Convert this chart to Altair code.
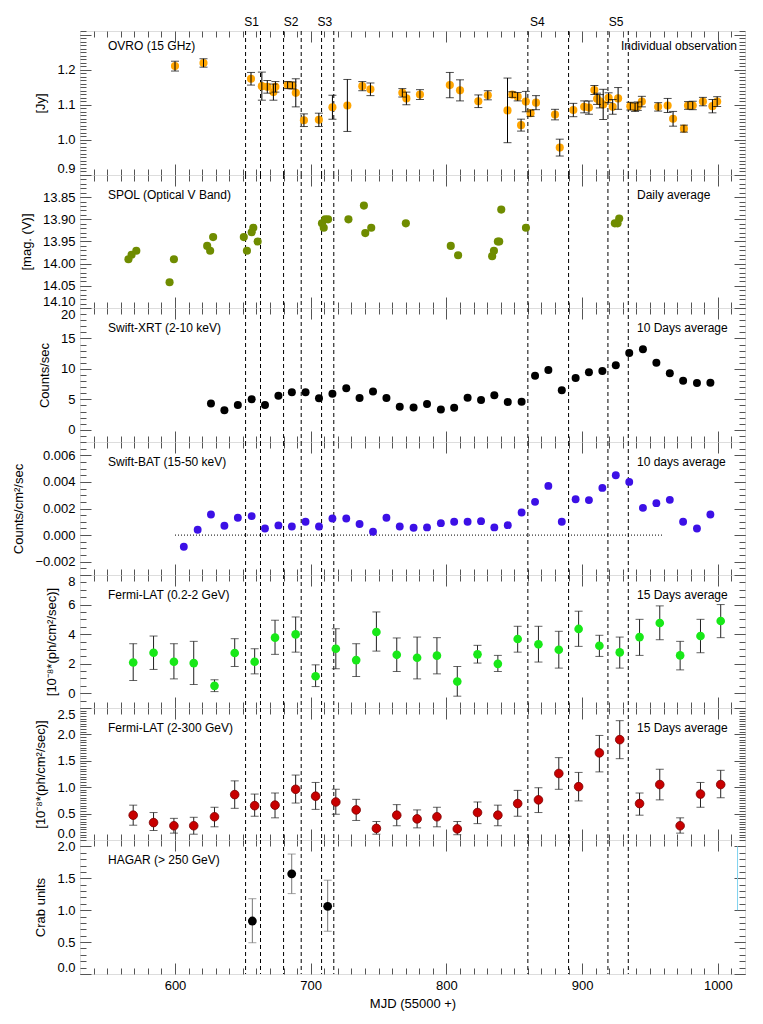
import altair as alt
import pandas as pd

FONT = "Liberation Sans"
X_DOMAIN = [530, 1020]
PANEL_W = 665

# ---------------- state boundaries ----------------
STATE_EDGES = [652, 663, 680, 693, 708, 717, 860, 890, 919, 934]
STATE_NAMES = ["S1", "S2", "S3", "S4", "S5"]
STATE_LABEL_MJD = [656.5, 685.5, 710.5, 867, 925]

# ---------------- OVRO 15 GHz ----------------
ovro_mjd = [600, 621, 656, 664, 668, 672.5, 674, 683, 686.5, 689,
            695, 706, 716, 727, 738, 744, 767.5, 770.5, 780.5, 802.5,
            810, 823.5, 830.5, 845, 848.5, 852.5, 855, 858.5, 862, 866,
            880, 883.5, 893.5, 901.5, 905, 909, 911, 913, 915.5, 919.5,
            922.5, 926.5, 935.5, 939, 941, 944, 956, 963, 967, 975,
            978, 981.5, 989, 996, 999.5]
ovro_flux = [1.210, 1.219, 1.174, 1.153, 1.151, 1.136, 1.151, 1.156, 1.155, 1.134,
             1.056, 1.057, 1.093, 1.098, 1.153, 1.144, 1.134, 1.118, 1.129, 1.156,
             1.141, 1.110, 1.127, 1.084, 1.129, 1.123, 1.042, 1.109, 1.076, 1.106,
             1.072, 0.978, 1.085, 1.094, 1.092, 1.142, 1.117, 1.110, 1.101, 1.120,
             1.094, 1.118, 1.096, 1.093, 1.096, 1.109, 1.094, 1.098, 1.060, 1.032,
             1.098, 1.098, 1.109, 1.096, 1.109]
ovro_err = [0.014, 0.012, 0.018, 0.040, 0.018, 0.023, 0.015, 0.010, 0.010, 0.040,
            0.018, 0.019, 0.034, 0.074, 0.013, 0.018, 0.012, 0.018, 0.014, 0.036,
            0.030, 0.018, 0.013, 0.092, 0.008, 0.012, 0.017, 0.029, 0.009, 0.020,
            0.015, 0.024, 0.019, 0.017, 0.019, 0.013, 0.016, 0.019, 0.043, 0.014,
            0.021, 0.031, 0.011, 0.012, 0.012, 0.015, 0.012, 0.020, 0.021, 0.010,
            0.011, 0.012, 0.012, 0.019, 0.014]

# ---------------- SPOL V band ----------------
spol_mjd = [565.7, 568.0, 571.5, 596.0, 599.2, 623.7, 625.9, 628.1, 650.7, 653.0,
            656.5, 657.7, 660.9, 708.3, 709.6, 710.6, 712.8, 727.8, 739.2, 740.2,
            744.6, 770.1, 803.2, 808.6, 833.7, 835.0, 837.9, 838.9, 840.4, 858.6,
            924.1, 926.1, 927.3]
spol_mag = [13.990, 13.980, 13.971, 14.042, 13.990, 13.960, 13.971, 13.940, 13.940, 13.971,
            13.929, 13.919, 13.950, 13.909, 13.919, 13.900, 13.900, 13.900, 13.869, 13.931,
            13.919, 13.909, 13.960, 13.981, 13.983, 13.971, 13.950, 13.950, 13.878, 13.919,
            13.909, 13.909, 13.898]

# ---------------- Swift-XRT ----------------
xrt_mjd = [626.5, 636.4, 646.3, 656.5, 666.3, 676.2, 686.1, 696.2, 706.1, 716.0,
           726.2, 736.0, 745.9, 755.8, 765.6, 775.8, 785.7, 795.9, 805.7, 815.6,
           825.5, 835.3, 845.2, 855.4, 865.3, 875.1, 885.0, 895.2, 905.0, 914.9,
           924.8, 934.7, 944.8, 954.7, 964.6, 974.4, 984.6, 994.5]
xrt_rate = [4.33, 3.22, 4.06, 5.00, 4.06, 5.61, 6.17, 6.17, 5.17, 5.94,
            6.83, 5.22, 6.28, 5.22, 3.78, 3.67, 4.22, 3.33, 3.61, 5.28,
            4.89, 5.67, 4.56, 4.61, 8.89, 9.83, 6.50, 8.50, 9.44, 9.67,
            10.61, 12.61, 13.22, 11.00, 9.28, 8.06, 7.67, 7.72]

# ---------------- Swift-BAT ----------------
bat_mjd = [606.5, 616.7, 626.5, 636.4, 646.3, 656.5, 666.3, 676.2, 686.1, 696.2,
           706.1, 716.0, 726.2, 736.0, 745.9, 755.8, 765.6, 775.8, 785.7, 795.9,
           805.7, 815.6, 825.5, 835.3, 845.2, 855.4, 865.3, 875.1, 885.0, 895.2,
           905.0, 914.9, 924.8, 934.7, 944.8, 954.7, 964.6, 974.4, 984.6, 994.5]
bat_rate = [-0.00088, 0.00040, 0.00155, 0.00070, 0.00130, 0.00143, 0.00050, 0.00073, 0.00065, 0.00100,
            0.00065, 0.00125, 0.00125, 0.00083, 0.00025, 0.00130, 0.00065, 0.00055, 0.00058, 0.00090,
            0.00100, 0.00100, 0.00105, 0.00058, 0.00075, 0.00170, 0.00250, 0.00370, 0.00100, 0.00270,
            0.00263, 0.00355, 0.00450, 0.00400, 0.00205, 0.00240, 0.00265, 0.00100, 0.00050, 0.00155]
bat_zero_line = [600, 960]

# ---------------- Fermi-LAT ----------------
lat_mjd = [569.2, 584.2, 599.2, 613.8, 629.1, 644.0, 658.7, 673.7, 688.9, 703.6,
           718.5, 733.5, 748.4, 763.4, 778.4, 793.0, 808.0, 822.9, 837.9, 852.5,
           867.8, 882.8, 897.4, 912.7, 927.7, 942.3, 957.2, 972.2, 987.2, 1002.1]
latlo_flux = [2.08, 2.74, 2.13, 2.04, 0.50, 2.72, 2.13, 3.76, 3.98, 1.15,
              3.01, 2.24, 4.14, 2.60, 2.40, 2.54, 0.79, 2.63, 1.99, 3.67,
              3.31, 2.94, 4.35, 3.21, 2.76, 3.80, 4.75, 2.56, 3.87, 4.89]
latlo_hi = [3.35, 3.87, 3.35, 3.51, 0.91, 3.69, 3.01, 4.94, 5.16, 1.92,
            4.37, 3.35, 5.50, 3.74, 3.80, 3.76, 1.81, 3.24, 2.56, 4.53,
            4.53, 4.19, 5.55, 3.92, 3.80, 5.00, 5.91, 3.51, 5.00, 6.00]
latlo_lo = [0.86, 1.61, 0.97, 0.59, 0.11, 1.81, 1.31, 2.63, 2.78, 0.45,
            1.65, 1.13, 2.85, 1.47, 0.97, 1.31, -0.20, 2.04, 1.47, 2.78,
            2.11, 1.70, 3.17, 2.49, 1.70, 2.56, 3.62, 1.58, 2.74, 3.76]
lathi_flux = [0.47, 0.33, 0.27, 0.27, 0.44, 0.86, 0.65, 0.66, 0.96, 0.83,
              0.72, 0.57, 0.22, 0.47, 0.40, 0.44, 0.21, 0.52, 0.47, 0.69,
              0.76, 1.26, 1.01, 1.65, 1.90, 0.69, 1.05, 0.27, 0.87, 1.05]
lathi_hi = [0.66, 0.52, 0.41, 0.43, 0.62, 1.12, 0.87, 0.89, 1.23, 1.09,
            0.96, 0.77, 0.35, 0.67, 0.57, 0.62, 0.35, 0.72, 0.66, 0.94,
            0.99, 1.56, 1.28, 1.98, 2.26, 0.89, 1.34, 0.42, 1.09, 1.32]
lathi_lo = [0.28, 0.18, 0.13, 0.11, 0.25, 0.60, 0.45, 0.42, 0.70, 0.58,
            0.49, 0.37, 0.11, 0.27, 0.23, 0.25, 0.10, 0.31, 0.27, 0.45,
            0.52, 0.96, 0.74, 1.29, 1.54, 0.47, 0.76, 0.13, 0.62, 0.80]

# ---------------- HAGAR ----------------
hagar_mjd = [657.0, 686.0, 712.5]
hagar_flux = [0.83, 1.57, 1.06]
hagar_hi = [1.18, 1.88, 1.47]
hagar_lo = [0.49, 1.26, 0.67]
hagar_artifact = {"mjd": [1014.5], "lo": [1.0], "hi": [2.0]}

# ---------------- tick positions ----------------
X_LABELS = [600, 700, 800, 900, 1000]
X_MAJOR = [600, 700, 800, 900, 1000]
X_MINOR = [v for v in range(540, 1020, 10) if v not in X_MAJOR]

XSCALE = alt.Scale(domain=X_DOMAIN, nice=False, zero=False)
TICK_COLOR = "#555555"

states_df = pd.DataFrame({"edge": STATE_EDGES})


def tick_axis(orient, values, size):
    return alt.Axis(orient=orient, values=values, tickSize=alt.ExprRef(expr=f"-{size}"),
                    labels=False, domain=False, grid=False, title=None, ticks=True,
                    tickColor=TICK_COLOR, tickWidth=1)


def ylabel_axis(values, fmt, title):
    return alt.Axis(orient="left", values=values, format=fmt, ticks=False, tickSize=0,
                    domain=False, grid=False, labelFlush=True, labelOverlap=False, labelPadding=5,
                    labelFont=FONT, labelFontSize=13, labelColor="black",
                    title=title, titleFont=FONT, titleFontSize=13, titleFontWeight="normal",
                    titleColor="black", titlePadding=9)


XLABEL_AXIS = alt.Axis(orient="bottom", values=X_LABELS, format="d", ticks=False, tickSize=0,
                       domain=False, grid=False, labelFlush=False, labelOverlap=False, labelPadding=5,
                       labelFont=FONT, labelFontSize=13, labelColor="black",
                       title="MJD (55000 +)", titleFont=FONT, titleFontSize=13,
                       titleFontWeight="normal", titleColor="black", titlePadding=5)


def errbar_layers(df, yscale, color, cap=8):
    rule = alt.Chart(df).mark_rule(color=color, strokeWidth=1).encode(
        x=alt.X("mjd:Q", scale=XSCALE, axis=None),
        y=alt.Y("lo:Q", scale=yscale, axis=None),
        y2=alt.Y2("hi:Q"))
    lo = alt.Chart(df).mark_tick(color=color, orient="horizontal", size=cap, thickness=1).encode(
        x=alt.X("mjd:Q", scale=XSCALE, axis=None),
        y=alt.Y("lo:Q", scale=yscale, axis=None))
    hi = alt.Chart(df).mark_tick(color=color, orient="horizontal", size=cap, thickness=1).encode(
        x=alt.X("mjd:Q", scale=XSCALE, axis=None),
        y=alt.Y("hi:Q", scale=yscale, axis=None))
    return [rule, lo, hi]


def points(df, yfield, yscale, color, size=55, stroke=None):
    kw = dict(filled=True, color=color, size=size, opacity=1)
    if stroke:
        kw.update(stroke=stroke, strokeWidth=0.8)
    return alt.Chart(df).mark_circle(**kw).encode(
        x=alt.X("mjd:Q", scale=XSCALE, axis=None),
        y=alt.Y(f"{yfield}:Q", scale=yscale, axis=None))


def build_panel(height, yscale, df, yfield, data_layers, ylabels, ymajor, yminor, yfmt, ytitle,
                left_text, right_text, text_y=20, right_x=557, right_align="left",
                bottom=False, top=False):
    layers = []
    layers.append(alt.Chart(states_df).mark_rule(strokeDash=[4, 3], color="black", strokeWidth=1).encode(
        x=alt.X("edge:Q", scale=XSCALE, axis=None)))
    layers += data_layers
    # label axes
    layers.append(alt.Chart(df).mark_point(opacity=0).encode(
        x=alt.X("mjd:Q", scale=XSCALE, axis=XLABEL_AXIS if bottom else None),
        y=alt.Y(f"{yfield}:Q", scale=yscale, axis=ylabel_axis(ylabels, yfmt, ytitle))))
    # inward tick axes
    for xo, yo, xv, yv, s in [("bottom", "left", X_MAJOR, ymajor, 11),
                              ("top", "right", X_MAJOR, ymajor, 11),
                              ("bottom", "left", X_MINOR, yminor, 6),
                              ("top", "right", X_MINOR, yminor, 6)]:
        layers.append(alt.Chart(df).mark_point(opacity=0).encode(
            x=alt.X("mjd:Q", scale=XSCALE, axis=tick_axis(xo, xv, s)),
            y=alt.Y(f"{yfield}:Q", scale=yscale, axis=tick_axis(yo, yv, s))))
    # annotations
    layers.append(alt.Chart(pd.DataFrame({"t": [left_text]})).mark_text(
        align="left", baseline="middle", font=FONT, fontSize=12, color="black").encode(
        x=alt.value(28), y=alt.value(text_y), text="t:N"))
    layers.append(alt.Chart(pd.DataFrame({"t": [right_text]})).mark_text(
        align=right_align, baseline="middle", font=FONT, fontSize=12, color="black").encode(
        x=alt.value(right_x), y=alt.value(text_y), text="t:N"))
    if top:
        sdf = pd.DataFrame({"mjd": STATE_LABEL_MJD, "name": STATE_NAMES})
        layers.append(alt.Chart(sdf).mark_text(
            align="center", baseline="bottom", font=FONT, fontSize=12, color="black").encode(
            x=alt.X("mjd:Q", scale=XSCALE, axis=None), y=alt.value(-2), text="name:N"))
    return alt.layer(*layers).resolve_axis(x="independent", y="independent").properties(
        width=PANEL_W, height=height)


def frange(a, b, step, nd):
    out = []
    v = a
    while v <= b + 1e-9:
        out.append(round(v, nd))
        v += step
    return out


# ---- panel 1: OVRO ----
ovro_df = pd.DataFrame({"mjd": ovro_mjd, "flux": ovro_flux, "err": ovro_err})
ovro_df["lo"] = ovro_df["flux"] - ovro_df["err"]
ovro_df["hi"] = ovro_df["flux"] + ovro_df["err"]
ys1 = alt.Scale(domain=[0.9, 1.31], nice=False, zero=False)
p1 = build_panel(144, ys1, ovro_df, "flux",
                 [points(ovro_df, "flux", ys1, "#FFA500", 66)] + errbar_layers(ovro_df, ys1, "black"),
                 [0.9, 1.0, 1.1, 1.2], [0.9, 1.0, 1.1, 1.2, 1.3], frange(0.9, 1.31, 0.01, 3),
                 ".1f", "[Jy]", "OVRO (15 GHz)", "Individual observation",
                 text_y=15, right_x=657, right_align="right", top=True)

# ---- panel 2: SPOL ----
spol_df = pd.DataFrame({"mjd": spol_mjd, "mag": spol_mag})
ys2 = alt.Scale(domain=[13.80, 14.10], reverse=True, nice=False, zero=False)
p2 = build_panel(133, ys2, spol_df, "mag",
                 [points(spol_df, "mag", ys2, "#6f8c00", 66)],
                 [13.85, 13.90, 13.95, 14.00, 14.05, 14.10],
                 [13.80, 13.85, 13.90, 13.95, 14.00, 14.05, 14.10], frange(13.80, 14.10, 0.01, 2),
                 ".2f", "[mag. (V)]", "SPOL (Optical V Band)", "Daily average")

# ---- panel 3: XRT ----
xrt_df = pd.DataFrame({"mjd": xrt_mjd, "rate": xrt_rate})
ys3 = alt.Scale(domain=[-2, 20], nice=False, zero=False)
p3 = build_panel(134, ys3, xrt_df, "rate",
                 [points(xrt_df, "rate", ys3, "black", 64)],
                 [0, 5, 10, 15, 20], [0, 5, 10, 15, 20], frange(-2, 20, 1, 0),
                 "d", "Counts/sec", "Swift-XRT (2-10 keV)", "10 Days average")

# ---- panel 4: BAT ----
bat_df = pd.DataFrame({"mjd": bat_mjd, "rate": bat_rate})
zero_df = pd.DataFrame({"mjd": [bat_zero_line[0]], "mjd2": [bat_zero_line[1]], "rate": [0.0]})
ys4 = alt.Scale(domain=[-0.003, 0.007], nice=False, zero=False)
zero_line = alt.Chart(zero_df).mark_rule(color="black", strokeWidth=1, strokeDash=[1, 2]).encode(
    x=alt.X("mjd:Q", scale=XSCALE, axis=None), x2="mjd2:Q",
    y=alt.Y("rate:Q", scale=ys4, axis=None))
p4 = build_panel(133, ys4, bat_df, "rate",
                 [zero_line, points(bat_df, "rate", ys4, "#3c10e6", 62)],
                 [-0.002, 0.0, 0.002, 0.004, 0.006], [-0.002, 0.0, 0.002, 0.004, 0.006],
                 frange(-0.003, 0.007, 0.0005, 4),
                 ".3f", "Counts/cm²/sec", "Swift-BAT (15-50 keV)", "10 days average")

# ---- panel 5: Fermi low ----
latlo_df = pd.DataFrame({"mjd": lat_mjd, "flux": latlo_flux, "lo": latlo_lo, "hi": latlo_hi})
ys5 = alt.Scale(domain=[-1, 8], nice=False, zero=False)
p5 = build_panel(133, ys5, latlo_df, "flux",
                 errbar_layers(latlo_df, ys5, "#222222") + [points(latlo_df, "flux", ys5, "#18e818", 75)],
                 [0, 2, 4, 6, 8], [0, 2, 4, 6, 8], frange(-1, 8, 0.5, 1),
                 "d", "[10⁻⁸*(ph/cm²/sec)]", "Fermi-LAT (0.2-2 GeV)", "15 Days average")

# ---- panel 6: Fermi high ----
lathi_df = pd.DataFrame({"mjd": lat_mjd, "flux": lathi_flux, "lo": lathi_lo, "hi": lathi_hi})
ys6 = alt.Scale(domain=[0, 2.5], nice=False, zero=False)
p6 = build_panel(132, ys6, lathi_df, "flux",
                 errbar_layers(lathi_df, ys6, "#222222") +
                 [points(lathi_df, "flux", ys6, "#c80000", 75, stroke="#7a0000")],
                 [0.0, 0.5, 1.0, 1.5, 2.0, 2.5], [0.0, 0.5, 1.0, 1.5, 2.0, 2.5], frange(0, 2.5, 0.05, 2),
                 ".1f", "[10⁻⁸*(ph/cm²/sec)]", "Fermi-LAT (2-300 GeV)", "15 Days average")

# ---- panel 7: HAGAR ----
hagar_df = pd.DataFrame({"mjd": hagar_mjd, "flux": hagar_flux, "lo": hagar_lo, "hi": hagar_hi})
art_df = pd.DataFrame(hagar_artifact)
ys7 = alt.Scale(domain=[0, 2.1], nice=False, zero=False)
artifact = alt.Chart(art_df).mark_rule(color="#7fd3f0", strokeWidth=1).encode(
    x=alt.X("mjd:Q", scale=XSCALE, axis=None),
    y=alt.Y("lo:Q", scale=ys7, axis=None), y2="hi:Q")
p7 = build_panel(134, ys7, hagar_df, "flux",
                 [artifact] + errbar_layers(hagar_df, ys7, "#777777") +
                 [points(hagar_df, "flux", ys7, "black", 78)],
                 [0.0, 0.5, 1.0, 1.5, 2.0], [0.0, 0.5, 1.0, 1.5, 2.0], frange(0, 2.1, 0.1, 1),
                 ".1f", "Crab units", "HAGAR (> 250 GeV)", "", bottom=True)

chart = alt.vconcat(p1, p2, p3, p4, p5, p6, p7, spacing=0, bounds="flush").properties(
    padding={"top": 7, "left": 4, "right": 5, "bottom": 4}
).configure_view(stroke="black", strokeWidth=1).configure(background="white")

chart.save("out.html", embed_options={"renderer": "svg", "actions": False})
